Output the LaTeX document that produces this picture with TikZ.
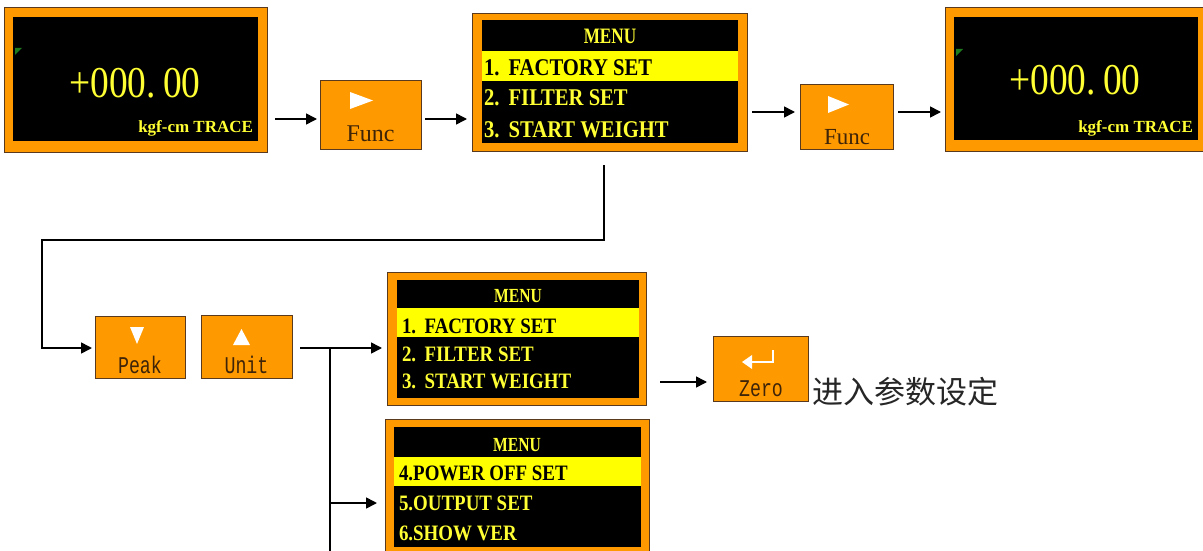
\documentclass[tikz,border=0pt]{standalone}
\usepackage{fontspec}
\usetikzlibrary{arrows.meta}
\setmainfont{Liberation Serif}
\newfontfamily\menufont[FakeStretch=0.86]{Liberation Serif}
\newfontfamily\headfont[FakeStretch=0.78]{Liberation Serif}
\newfontfamily\numfont[FakeStretch=0.85]{Liberation Serif}
\newfontfamily\keyfont[FakeStretch=0.76]{Liberation Mono}
\newfontfamily\cjk{Noto Sans CJK SC}
\definecolor{orangeC}{HTML}{FF9900}
\definecolor{frameC}{HTML}{5A3A1E}
\definecolor{lcdY}{HTML}{FFFF33}
\definecolor{hiY}{HTML}{FFFF00}
\definecolor{keyT}{HTML}{3E2408}
\definecolor{ledG}{HTML}{1E7A1E}
\tikzset{
  frame/.style={draw=frameC, fill=orangeC, line width=0.9pt, inner sep=0pt, outer sep=0pt},
  arr/.style={-{Triangle[length=11pt,width=11pt]}, line width=1.6pt},
  wire/.style={line width=1.6pt},
  txt/.style={inner sep=0pt, outer sep=0pt},
  menuhead/.style={txt, anchor=base, text=lcdY},
  item/.style={txt, anchor=base west, text=lcdY},
  hitem/.style={txt, anchor=base west, text=black},
  keytxt/.style={txt, anchor=base, text=keyT},
  icon/.style={fill=white, draw=none},
}
\begin{document}
\begin{tikzpicture}[x=1pt,y=-1pt]
\useasboundingbox (0,0) rectangle (1203,551);

% ---------- display 1
\node[frame, minimum width=263pt, minimum height=145pt] (d1) at (135.5,79.5) {};
\fill[black] (13,17) rectangle (258,141);
\fill[ledG] (15,48) -- (22,48) -- (15,55) -- cycle;
\node[txt, anchor=base, text=lcdY, font=\numfont\fontsize{44}{44}\selectfont] (d1n) at (135,97) {+000.\,00};
\node[txt, anchor=base east, text=lcdY, font=\bfseries\fontsize{17}{17}\selectfont] (d1u) at (253,132) {kgf-cm TRACE};

% ---------- Func 1
\node[frame, minimum width=101pt, minimum height=69pt] (f1) at (370.5,114.5) {};
\fill[icon] (350,92) -- (350,109) -- (373,100.5) -- cycle;
\node[keytxt, font=\fontsize{24}{24}\selectfont] (f1t) at (370.5,142) {Func};

% ---------- menu 1
\node[frame, minimum width=275pt, minimum height=138pt] (m1) at (609.5,82) {};
\fill[black] (482,20) rectangle (738,143);
\fill[hiY] (482,51) rectangle (738,81);
\node[menuhead, font=\headfont\bfseries\fontsize{22}{22}\selectfont] (m1h) at (610,44) {MENU};
\node[hitem, font=\menufont\bfseries\fontsize{24}{24}\selectfont] (m1a) at (484,76) {1.\ \,FACTORY SET};
\node[item, font=\menufont\bfseries\fontsize{24}{24}\selectfont] (m1b) at (484,106) {2.\ \,FILTER SET};
\node[item, font=\menufont\bfseries\fontsize{24}{24}\selectfont] (m1c) at (484,137) {3.\ \,START WEIGHT};

% ---------- Func 2
\node[frame, minimum width=93pt, minimum height=65pt] (f2) at (846.5,116.5) {};
\fill[icon] (828,96) -- (828,113) -- (849,104.5) -- cycle;
\node[keytxt, font=\fontsize{23}{23}\selectfont] (f2t) at (847,144) {Func};

% ---------- display 2
\node[frame, minimum width=258pt, minimum height=144pt] (d2) at (1074,79) {};
\fill[black] (954,17) rectangle (1198,140);
\fill[ledG] (956,49) -- (963,49) -- (956,56) -- cycle;
\node[txt, anchor=base, text=lcdY, font=\numfont\fontsize{44}{44}\selectfont] (d2n) at (1075,95) {+000.\,00};
\node[txt, anchor=base east, text=lcdY, font=\bfseries\fontsize{17}{17}\selectfont] (d2u) at (1193,132) {kgf-cm TRACE};

% ---------- Peak / Unit
\node[frame, minimum width=90pt, minimum height=62pt] (peak) at (140,347) {};
\fill[icon] (130,327) -- (144,327) -- (137,344) -- cycle;
\node[keytxt, font=\keyfont\fontsize{24}{24}\selectfont] (peakt) at (140,373) {Peak};
\node[frame, minimum width=91pt, minimum height=63pt] (unit) at (246.5,346.5) {};
\fill[icon] (233,345) -- (250,345) -- (241.5,329) -- cycle;
\node[keytxt, font=\keyfont\fontsize{24}{24}\selectfont] (unitt) at (246.5,373) {Unit};

% ---------- menu 2
\node[frame, minimum width=259pt, minimum height=133pt] (m2) at (516.5,338.5) {};
\fill[black] (397,280) rectangle (639,398);
\fill[hiY] (397,308) rectangle (639,337);
\node[menuhead, font=\headfont\bfseries\fontsize{20}{20}\selectfont] (m2h) at (518,302) {MENU};
\node[hitem, font=\menufont\bfseries\fontsize{22}{22}\selectfont] (m2a) at (402,333) {1.\ \,FACTORY SET};
\node[item, font=\menufont\bfseries\fontsize{22}{22}\selectfont] (m2b) at (402,361) {2.\ \,FILTER SET};
\node[item, font=\menufont\bfseries\fontsize{22}{22}\selectfont] (m2c) at (402,388) {3.\ \,START WEIGHT};

% ---------- menu 3
\node[frame, minimum width=264pt, minimum height=138pt] (m3) at (517,488) {};
\fill[black] (394,427) rectangle (641,547);
\fill[hiY] (394,457) rectangle (641,486);
\node[menuhead, font=\headfont\bfseries\fontsize{20}{20}\selectfont] (m3h) at (517,451) {MENU};
\node[hitem, font=\menufont\bfseries\fontsize{22}{22}\selectfont] (m3a) at (399,480) {4.POWER OFF SET};
\node[item, font=\menufont\bfseries\fontsize{22}{22}\selectfont] (m3b) at (399,510) {5.OUTPUT SET};
\node[item, font=\menufont\bfseries\fontsize{22}{22}\selectfont] (m3c) at (399,540) {6.SHOW VER};

% ---------- Zero
\node[frame, minimum width=95pt, minimum height=65pt] (zero) at (760.5,368.5) {};
\draw[white, line width=2.6pt] (773,350) -- (773,362) -- (750,362);
\fill[icon] (742,362) -- (752,355) -- (752,369) -- cycle;
\node[keytxt, font=\keyfont\fontsize{24}{24}\selectfont] (zerot) at (761,396) {Zero};
\node[txt, anchor=west, text=black!85, font=\cjk\fontsize{31}{31}\selectfont] (cjkt) at (812,392) {进入参数设定};

% ---------- connectors
\draw[arr] ([xshift=8pt]d1.east |- 0,119) -- ([xshift=-3pt]f1.west |- 0,119);
\draw[arr] ([xshift=4pt]f1.east |- 0,119) -- ([xshift=-5pt]m1.west |- 0,119);
\draw[arr] ([xshift=5pt]m1.east |- 0,112) -- ([xshift=-5pt]f2.west |- 0,112);
\draw[arr] ([xshift=5pt]f2.east |- 0,112) -- ([xshift=-4pt]d2.west |- 0,112);

\coordinate (lp1) at ([yshift=-14pt]m1.south -| 604,0);
\coordinate (lp2) at (42,240);
\draw[arr] (lp1) |- (lp2) |- ([xshift=-3pt]peak.west |- 0,348);

\draw[arr] ([xshift=8pt]unit.east |- 0,348) -- ([xshift=-5pt]m2.west |- 0,348);
\coordinate (br) at (330,348);
\coordinate (brend) at (330,556);
\draw[wire] (br) -- (brend);
\draw[arr] (br |- 0,503) -- ([xshift=-8pt]m3.west |- 0,503);

\draw[arr] ([xshift=14pt]m2.east |- 0,382) -- ([xshift=-6pt]zero.west |- 0,382);
\end{tikzpicture}
\end{document}
